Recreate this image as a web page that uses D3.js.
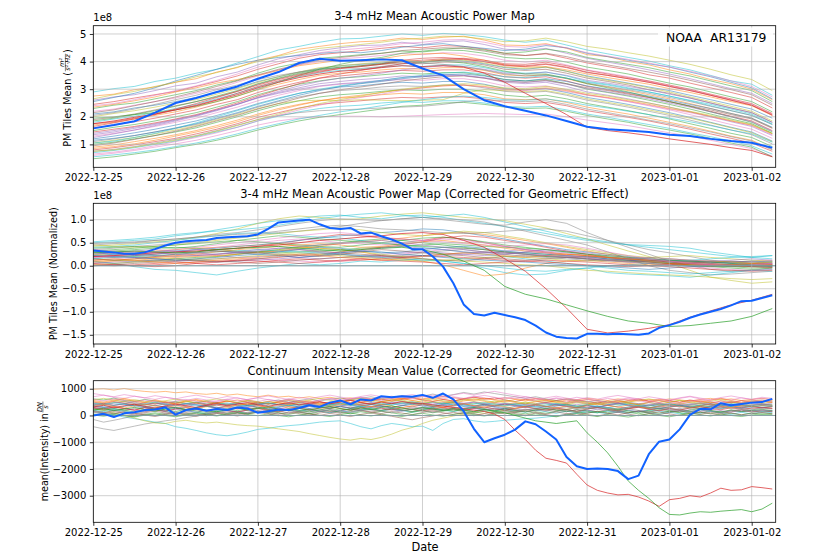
<!DOCTYPE html>
<html><head><meta charset="utf-8">
<script src="https://cdn.jsdelivr.net/npm/d3@7"></script>
<style>body{margin:0;background:#fff}svg{display:block}text{font-family:"DejaVu Sans",sans-serif;fill:#000}</style>
</head><body><svg id="c" width="830" height="554"></svg>
<script>
// ---------- time grids (hours after 2022-12-25 00:00 UTC) ----------
const hours6 = [0,6,12,18,24,30,36,42,48,54,60,66,72,78,84,90,96,102,108,114,120,126,132,138,144,150,156,162,168,174,180,186,192,198];
const hours3 = [0,3,6,9,12,15,18,21,24,27,30,33,36,39,42,45,48,51,54,57,60,63,66,69,72,75,78,81,84,87,90,93,96,99,102,105,108,111,114,117,120,123,126,129,132,135,138,141,144,147,150,153,156,159,162,165,168,171,174,177,180,183,186,189,192,195,198];
const dayLabels = ["2022-12-25","2022-12-26","2022-12-27","2022-12-28","2022-12-29","2022-12-30","2022-12-31","2023-01-01","2023-01-02"];

// ---------- panel 1 : PM tiles mean (1e8) ----------
const p1Thin = [
 [2.90,3.02,3.10,3.28,3.40,3.58,3.72,3.95,4.18,4.42,4.55,4.70,4.82,4.84,4.92,5.00,4.95,5.02,4.98,4.90,4.78,4.70,4.78,4.60,4.42,4.28,4.15,4.02,3.85,3.70,3.50,3.30,3.18,2.78],
 [2.75,2.82,2.98,3.08,3.25,3.38,3.62,3.78,4.05,4.22,4.45,4.55,4.65,4.72,4.75,4.85,4.80,4.88,4.92,4.78,4.60,4.58,4.65,4.48,4.25,4.18,4.00,3.88,3.70,3.55,3.35,3.20,3.00,2.62],
 [2.60,2.72,2.80,2.95,3.12,3.22,3.45,3.62,3.88,4.10,4.25,4.40,4.50,4.58,4.60,4.70,4.62,4.72,4.75,4.62,4.45,4.40,4.48,4.30,4.12,3.98,3.85,3.70,3.55,3.38,3.20,3.02,2.85,2.48],
 [2.45,2.55,2.68,2.80,2.92,3.10,3.28,3.48,3.72,3.92,4.12,4.25,4.32,4.40,4.48,4.55,4.50,4.58,4.55,4.45,4.30,4.22,4.28,4.12,3.95,3.82,3.70,3.52,3.40,3.22,3.05,2.88,2.70,2.32],
 [2.30,2.42,2.50,2.65,2.80,2.95,3.15,3.32,3.58,3.80,3.95,4.12,4.18,4.25,4.30,4.38,4.35,4.42,4.40,4.30,4.15,4.10,4.12,3.98,3.80,3.68,3.55,3.38,3.22,3.08,2.90,2.72,2.55,2.18],
 [2.20,2.28,2.42,2.55,2.68,2.85,3.02,3.25,3.48,3.70,3.88,4.00,4.10,4.15,4.22,4.30,4.25,4.32,4.30,4.20,4.05,3.98,4.05,3.88,3.70,3.58,3.45,3.28,3.12,2.98,2.78,2.62,2.45,2.08],
 [2.10,2.18,2.32,2.42,2.55,2.70,2.88,3.05,3.28,3.45,3.62,3.75,3.85,3.90,3.95,4.02,3.98,4.05,4.02,3.92,3.78,3.72,3.80,3.65,3.48,3.35,3.22,3.08,2.95,2.78,2.62,2.45,2.28,1.95],
 [2.00,2.12,2.22,2.35,2.50,2.62,2.82,3.02,3.25,3.45,3.62,3.78,3.85,3.92,3.98,4.05,4.00,4.08,4.05,3.95,3.80,3.75,3.80,3.65,3.45,3.32,3.20,3.05,2.90,2.72,2.55,2.38,2.20,1.85],
 [1.90,1.98,2.10,2.25,2.40,2.55,2.72,2.92,3.18,3.38,3.55,3.68,3.78,3.82,3.90,3.95,3.92,3.98,3.98,3.88,3.72,3.68,3.72,3.58,3.40,3.28,3.15,2.98,2.85,2.68,2.50,2.32,2.15,1.80],
 [1.80,1.92,2.02,2.15,2.30,2.45,2.65,2.85,3.08,3.28,3.45,3.60,3.68,3.72,3.80,3.85,3.82,3.88,3.88,3.78,3.62,3.58,3.62,3.48,3.28,3.18,3.05,2.90,2.75,2.58,2.40,2.22,2.05,1.72],
 [1.70,1.80,1.92,2.05,2.18,2.35,2.55,2.75,2.98,3.18,3.35,3.50,3.58,3.62,3.70,3.75,3.72,3.78,3.78,3.68,3.52,3.48,3.52,3.38,3.20,3.08,2.95,2.80,2.65,2.48,2.30,2.12,1.95,1.60],
 [1.60,1.70,1.82,1.95,2.10,2.25,2.45,2.62,2.88,3.08,3.25,3.40,3.48,3.55,3.62,3.68,3.65,3.70,3.70,3.60,3.45,3.40,3.45,3.30,3.10,2.98,2.85,2.70,2.55,2.38,2.20,2.02,1.85,1.50],
 [1.50,1.62,1.72,1.85,2.00,2.15,2.35,2.55,2.80,3.00,3.18,3.30,3.40,3.45,3.52,3.58,3.55,3.60,3.60,3.50,3.35,3.30,3.35,3.20,3.00,2.88,2.75,2.60,2.45,2.28,2.10,1.92,1.75,1.40],
 [1.40,1.50,1.62,1.75,1.90,2.05,2.25,2.45,2.70,2.88,3.05,3.20,3.28,3.35,3.40,3.48,3.45,3.50,3.50,3.40,3.25,3.20,3.25,3.10,2.90,2.78,2.65,2.50,2.35,2.18,2.00,1.82,1.65,1.32],
 [1.30,1.40,1.52,1.65,1.80,1.95,2.15,2.35,2.58,2.78,2.95,3.10,3.18,3.22,3.30,3.35,3.32,3.38,3.38,3.28,3.12,3.08,3.12,2.98,2.80,2.68,2.55,2.40,2.25,2.08,1.90,1.72,1.55,1.22],
 [1.20,1.30,1.42,1.55,1.70,1.85,2.05,2.25,2.48,2.68,2.85,2.98,3.08,3.12,3.20,3.25,3.22,3.28,3.28,3.18,3.02,2.98,3.02,2.88,2.70,2.58,2.45,2.30,2.15,1.98,1.80,1.62,1.45,1.12],
 [1.10,1.20,1.32,1.45,1.58,1.72,1.92,2.12,2.35,2.55,2.72,2.85,2.95,3.00,3.08,3.12,3.10,3.15,3.15,3.05,2.92,2.88,2.92,2.78,2.60,2.48,2.35,2.20,2.05,1.88,1.70,1.52,1.35,1.02],
 [1.00,1.08,1.20,1.32,1.45,1.60,1.80,2.00,2.22,2.42,2.58,2.72,2.80,2.85,2.92,2.98,2.95,3.00,3.00,2.92,2.78,2.72,2.78,2.65,2.48,2.35,2.22,2.08,1.92,1.75,1.58,1.40,1.25,0.92],
 [0.90,0.98,1.10,1.22,1.35,1.50,1.68,1.88,2.10,2.30,2.45,2.58,2.68,2.72,2.80,2.85,2.82,2.88,2.88,2.80,2.65,2.62,2.65,2.52,2.35,2.22,2.10,1.95,1.80,1.65,1.48,1.30,1.15,0.82],
 [0.80,0.88,0.98,1.10,1.22,1.38,1.55,1.75,1.98,2.15,2.32,2.45,2.52,2.58,2.65,2.70,2.68,2.72,2.72,2.65,2.52,2.48,2.52,2.40,2.22,2.10,1.98,1.85,1.70,1.55,1.38,1.22,1.05,0.75],
 [0.70,0.78,0.88,1.00,1.12,1.28,1.45,1.62,1.85,2.02,2.18,2.30,2.38,2.42,2.50,2.55,2.52,2.58,2.58,2.50,2.38,2.35,2.38,2.25,2.10,1.98,1.85,1.72,1.58,1.42,1.28,1.12,0.95,0.65],
 [0.60,0.68,0.78,0.90,1.02,1.15,1.32,1.50,1.70,1.85,1.95,2.00,2.02,2.02,2.00,2.02,2.05,2.08,2.10,2.12,2.10,2.08,2.10,2.00,1.88,1.78,1.68,1.55,1.42,1.30,1.15,1.00,0.85,0.58],
 [0.48,0.55,0.65,0.75,0.88,1.00,1.15,1.32,1.52,1.70,1.85,1.98,2.08,2.18,2.28,2.38,2.42,2.50,2.52,2.45,2.35,2.30,2.32,2.20,2.05,1.92,1.80,1.65,1.52,1.38,1.22,1.05,0.90,0.55],
 [1.05,1.15,1.25,1.38,1.52,1.68,1.88,2.08,2.30,2.48,2.58,2.60,2.58,2.62,2.60,2.58,2.60,2.62,2.85,2.98,2.95,2.92,2.95,2.82,2.65,2.52,2.40,2.25,2.10,1.95,1.78,1.60,1.42,1.10],
 [0.75,0.82,0.92,1.05,1.18,1.32,1.50,1.70,1.90,2.05,2.15,2.22,2.25,2.28,2.32,2.35,2.38,2.45,2.55,2.62,2.58,2.55,2.58,2.45,2.28,2.15,2.02,1.88,1.75,1.60,1.45,1.28,1.12,0.80],
 [2.55,2.70,2.85,3.05,3.30,3.50,3.72,3.90,4.05,4.15,4.22,4.30,4.35,4.32,4.40,4.52,4.60,4.65,4.55,4.48,4.40,4.45,4.58,4.50,4.30,4.18,4.05,3.92,3.80,3.62,3.45,3.25,3.05,2.65],
 [1.95,2.00,2.08,2.15,2.25,2.38,2.55,2.75,3.00,3.25,3.50,3.72,3.90,4.05,4.15,4.30,4.38,4.45,4.50,4.42,4.30,4.35,4.45,4.35,4.15,4.02,3.90,3.78,3.62,3.48,3.30,3.12,2.95,2.55],
 [2.35,2.45,2.58,2.72,2.90,3.05,3.22,3.35,3.50,3.68,3.85,3.95,4.05,4.00,4.10,4.22,4.28,4.30,4.20,4.05,3.88,3.80,3.82,3.70,3.55,3.42,3.30,3.18,3.02,2.88,2.72,2.55,2.40,2.05],
 [1.65,1.78,1.92,2.08,2.25,2.42,2.62,2.85,3.10,3.30,3.48,3.62,3.75,3.85,3.92,4.05,4.12,4.15,4.10,4.00,3.85,3.82,3.90,3.78,3.60,3.50,3.38,3.25,3.10,2.95,2.78,2.60,2.42,2.05],
 [1.25,1.38,1.52,1.68,1.85,2.02,2.22,2.45,2.70,2.92,3.12,3.28,3.40,3.48,3.58,3.70,3.78,3.85,3.82,3.72,3.58,3.55,3.62,3.50,3.32,3.22,3.10,2.98,2.82,2.68,2.50,2.32,2.15,1.80],
 [0.95,1.05,1.18,1.32,1.48,1.65,1.85,2.05,2.28,2.48,2.68,2.85,2.98,3.08,3.18,3.30,3.38,3.45,3.48,3.40,3.28,3.25,3.32,3.20,3.05,2.95,2.82,2.70,2.55,2.40,2.25,2.08,1.92,1.58],
 [0.65,0.72,0.82,0.95,1.10,1.25,1.42,1.62,1.85,2.05,2.25,2.42,2.58,2.70,2.82,2.95,3.05,3.12,3.15,3.08,2.98,2.95,3.02,2.92,2.78,2.68,2.55,2.42,2.28,2.15,2.00,1.85,1.68,1.35],
 [0.55,0.62,0.70,0.80,0.92,1.05,1.20,1.38,1.58,1.75,1.92,2.05,2.18,2.28,2.40,2.52,2.62,2.70,2.75,2.70,2.62,2.60,2.65,2.55,2.42,2.32,2.20,2.08,1.95,1.82,1.68,1.52,1.38,1.08],
 [2.65,2.80,2.92,3.10,3.25,3.45,3.60,3.80,4.00,4.20,4.35,4.48,4.55,4.62,4.70,4.80,4.85,4.92,4.90,4.82,4.72,4.75,4.85,4.72,4.55,4.45,4.32,4.20,4.05,3.90,3.72,3.52,3.35,2.95],
 [2.05,2.15,2.28,2.45,2.62,2.78,2.98,3.15,3.35,3.50,3.62,3.72,3.78,3.75,3.82,3.92,3.95,3.90,3.82,3.70,3.55,3.48,3.52,3.40,3.22,3.10,2.98,2.85,2.70,2.55,2.38,2.22,2.05,1.72],
 [1.45,1.55,1.65,1.78,1.92,2.08,2.28,2.50,2.75,2.98,3.20,3.40,3.55,3.68,3.80,3.92,4.00,4.05,4.08,4.00,3.88,3.85,3.92,3.80,3.62,3.50,3.38,3.25,3.10,2.95,2.78,2.60,2.42,2.08],
 [1.15,1.22,1.32,1.45,1.60,1.75,1.95,2.15,2.38,2.58,2.78,2.95,3.10,3.20,3.28,3.38,3.45,3.52,3.55,3.48,3.35,3.30,3.38,3.28,3.12,3.00,2.88,2.75,2.60,2.45,2.30,2.12,1.95,1.62],
 [0.85,0.92,1.02,1.15,1.30,1.45,1.62,1.82,2.05,2.25,2.42,2.58,2.70,2.78,2.88,2.98,3.05,3.12,3.15,3.10,3.00,2.98,3.05,2.95,2.80,2.70,2.58,2.45,2.30,2.18,2.02,1.85,1.70,1.38],
 [1.85,1.95,2.08,2.22,2.38,2.55,2.75,2.95,3.20,3.40,3.58,3.72,3.80,3.85,3.92,4.00,3.98,4.02,3.95,3.82,3.65,3.55,3.55,3.40,3.20,3.05,2.90,2.72,2.55,2.38,2.18,2.00,1.80,1.45],
 [2.40,2.48,2.62,2.78,2.95,3.12,3.32,3.55,3.80,4.00,4.18,4.32,4.42,4.48,4.55,4.65,4.70,4.78,4.80,4.70,4.55,4.52,4.62,4.50,4.32,4.20,4.08,3.95,3.80,3.65,3.48,3.30,3.10,2.72],
 [1.35,1.45,1.58,1.72,1.88,2.05,2.25,2.45,2.68,2.85,3.00,3.12,3.20,3.25,3.32,3.42,3.48,3.52,3.50,3.42,3.30,3.25,3.30,3.18,3.02,2.90,2.78,2.65,2.50,2.35,2.18,2.00,1.82,1.48],
 [1.05,1.12,1.25,1.40,1.58,1.78,2.00,2.22,2.45,2.65,2.85,3.00,3.12,3.22,3.32,3.42,3.50,3.58,3.62,3.55,3.45,3.42,3.50,3.40,3.25,3.15,3.02,2.90,2.75,2.60,2.45,2.28,2.10,1.75],
 [0.75,0.80,0.90,1.02,1.15,1.30,1.48,1.68,1.90,2.10,2.30,2.48,2.62,2.75,2.88,3.00,3.08,3.15,3.20,3.15,3.05,3.02,3.10,3.00,2.85,2.75,2.62,2.50,2.35,2.20,2.05,1.88,1.72,1.40],
 [1.75,1.82,1.95,2.10,2.28,2.48,2.70,2.92,3.15,3.35,3.52,3.65,3.75,3.82,3.90,4.00,4.05,4.10,4.12,4.05,3.92,3.90,3.98,3.85,3.68,3.55,3.42,3.30,3.15,3.00,2.82,2.65,2.48,2.12],
 [2.15,2.25,2.40,2.55,2.72,2.90,3.10,3.30,3.52,3.72,3.90,4.05,4.15,4.22,4.30,4.40,4.45,4.50,4.48,4.38,4.25,4.22,4.30,4.18,4.00,3.88,3.75,3.62,3.48,3.32,3.15,2.98,2.80,2.42]
];
const p1ThinColors = ["#17becf","#ff7f0e","#9467bd","#d62728","#2ca02c","#e377c2","#1f77b4","#bcbd22","#8c564b","#17becf","#ff7f0e","#d62728","#2ca02c","#9467bd","#e377c2","#1f77b4","#7f7f7f","#2ca02c","#ff7f0e","#d62728","#17becf","#e377c2","#2ca02c","#bcbd22","#7f7f7f","#1f77b4","#2ca02c","#ff7f0e","#d62728","#9467bd","#8c564b","#e377c2","#17becf","#bcbd22","#7f7f7f","#d62728","#1f77b4","#ff7f0e","#2ca02c","#e377c2","#9467bd","#17becf","#bcbd22","#d62728","#8c564b"];
const p1Red  = [1.75,1.85,1.98,2.10,2.25,2.40,2.60,2.80,3.05,3.25,3.42,3.55,3.65,3.70,3.78,3.85,3.82,3.85,3.80,3.58,3.25,2.85,2.48,2.08,1.62,1.50,1.42,1.32,1.20,1.10,1.00,0.88,0.78,0.55];
const p1Blue = [1.58,1.70,1.84,2.15,2.50,2.68,2.90,3.10,3.38,3.62,3.95,4.10,4.03,4.05,4.08,4.05,3.75,3.50,3.00,2.60,2.38,2.22,2.05,1.85,1.64,1.55,1.50,1.45,1.35,1.30,1.20,1.12,1.06,0.88];

// ---------- panel 2 : corrected, normalized (1e8) ----------
const p2Thin = [
 [0.50,0.52,0.55,0.58,0.65,0.70,0.78,0.85,0.92,0.98,1.02,1.08,1.10,1.05,1.02,1.08,1.10,1.05,0.98,0.92,0.85,0.78,0.70,0.62,0.55,0.50,0.46,0.44,0.42,0.38,0.30,0.24,0.18,0.15],
 [0.42,0.45,0.48,0.52,0.55,0.62,0.70,0.80,0.92,1.02,1.08,1.05,1.00,1.02,1.08,1.12,1.15,1.10,1.05,1.02,0.98,0.90,0.82,0.70,0.58,0.45,0.32,0.20,0.05,-0.10,-0.25,-0.32,-0.38,-0.35],
 [0.45,0.48,0.50,0.55,0.58,0.62,0.68,0.72,0.78,0.85,0.92,0.98,1.02,1.00,0.98,1.02,1.05,1.00,0.95,0.90,0.88,0.95,1.00,0.92,0.72,0.55,0.40,0.25,0.10,0.00,-0.08,-0.12,-0.10,-0.05],
 [0.35,0.38,0.42,0.45,0.48,0.52,0.58,0.62,0.68,0.72,0.75,0.80,0.85,0.92,0.98,1.02,1.05,1.02,1.00,0.95,0.85,0.75,0.65,0.55,0.45,0.30,0.15,0.00,-0.10,-0.15,-0.20,-0.18,-0.15,-0.12],
 [0.10,0.05,-0.02,-0.08,-0.10,-0.15,-0.20,-0.12,-0.05,0.00,0.05,0.02,0.05,0.10,0.08,0.12,0.15,0.10,0.05,-0.05,-0.15,-0.20,-0.18,-0.10,-0.05,-0.15,-0.18,-0.20,-0.22,-0.25,-0.20,-0.15,-0.10,-0.12],
 [0.25,0.28,0.30,0.32,0.35,0.38,0.40,0.42,0.45,0.48,0.42,0.38,0.35,0.30,0.22,0.15,0.10,0.02,-0.10,-0.22,-0.18,-0.05,0.05,0.10,0.12,0.08,0.05,0.02,0.05,0.08,0.05,0.02,0.00,0.02],
 [0.20,0.18,0.22,0.25,0.28,0.30,0.35,0.38,0.42,0.48,0.55,0.62,0.68,0.65,0.60,0.58,0.55,0.62,0.58,0.50,0.42,0.35,0.30,0.25,0.22,0.18,0.15,0.12,0.10,0.08,0.10,0.08,0.05,0.06],
 [0.15,0.12,0.10,0.12,0.15,0.18,0.20,0.25,0.30,0.35,0.40,0.45,0.50,0.55,0.58,0.55,0.50,0.45,0.40,0.35,0.30,0.28,0.25,0.22,0.18,0.15,0.12,0.08,0.05,0.02,0.00,-0.02,-0.05,-0.03],
 [0.05,0.08,0.10,0.12,0.10,0.12,0.15,0.18,0.20,0.22,0.18,0.15,0.18,0.20,0.25,0.28,0.30,0.28,0.25,0.22,0.25,0.30,0.28,0.22,0.18,0.15,0.12,0.10,0.08,0.10,0.08,0.06,0.05,0.04],
 [0.30,0.28,0.25,0.22,0.20,0.22,0.25,0.28,0.30,0.32,0.35,0.32,0.28,0.25,0.22,0.20,0.22,0.25,0.28,0.30,0.28,0.25,0.22,0.20,0.15,0.12,0.10,0.08,0.05,0.04,0.02,0.00,-0.02,0.00],
 [0.12,0.15,0.18,0.20,0.22,0.25,0.22,0.18,0.15,0.12,0.10,0.08,0.10,0.15,0.20,0.25,0.30,0.35,0.38,0.35,0.30,0.25,0.22,0.18,0.15,0.12,0.10,0.12,0.15,0.12,0.10,0.08,0.10,0.12],
 [0.02,0.05,0.08,0.10,0.12,0.15,0.20,0.25,0.30,0.35,0.40,0.38,0.35,0.30,0.25,0.20,0.15,0.12,0.10,0.08,0.05,0.02,0.00,-0.05,-0.10,-0.12,-0.15,-0.18,-0.20,-0.22,-0.25,-0.28,-0.30,-0.28],
 [0.40,0.42,0.45,0.50,0.55,0.60,0.65,0.70,0.72,0.70,0.65,0.62,0.60,0.55,0.50,0.45,0.40,0.35,0.30,0.25,0.20,0.15,0.10,0.05,0.00,-0.05,-0.10,-0.12,-0.15,-0.18,-0.15,-0.12,-0.10,-0.08],
 [0.22,0.25,0.28,0.30,0.32,0.35,0.38,0.42,0.45,0.50,0.55,0.60,0.65,0.68,0.72,0.75,0.80,0.78,0.72,0.65,0.58,0.50,0.42,0.35,0.30,0.25,0.20,0.15,0.12,0.10,0.08,0.05,0.02,0.00],
 [0.08,0.10,0.12,0.15,0.18,0.20,0.22,0.25,0.28,0.32,0.38,0.42,0.48,0.52,0.55,0.60,0.65,0.70,0.72,0.68,0.62,0.55,0.48,0.40,0.32,0.25,0.18,0.12,0.08,0.05,0.03,0.00,-0.02,0.00],
 [0.30,0.32,0.35,0.38,0.40,0.38,0.35,0.32,0.30,0.28,0.30,0.32,0.35,0.38,0.40,0.42,0.45,0.48,0.45,0.42,0.40,0.38,0.35,0.30,0.25,0.20,0.15,0.10,0.05,0.02,0.00,-0.02,0.00,0.02],
 [0.05,0.02,0.00,0.02,0.05,0.08,0.10,0.12,0.15,0.18,0.22,0.25,0.30,0.35,0.40,0.45,0.52,0.60,0.65,0.62,0.55,0.48,0.40,0.32,0.25,0.18,0.12,0.08,0.05,0.02,0.00,0.02,0.05,0.03],
 [0.18,0.20,0.18,0.15,0.12,0.10,0.08,0.10,0.12,0.15,0.18,0.22,0.25,0.22,0.20,0.18,0.20,0.22,0.25,0.28,0.32,0.35,0.32,0.28,0.22,0.18,0.15,0.12,0.08,0.05,0.02,0.00,0.02,0.04],
 [0.00,0.02,0.05,0.08,0.10,0.12,0.10,0.08,0.05,0.08,0.12,0.15,0.18,0.20,0.22,0.18,0.15,0.12,0.10,0.15,0.20,0.22,0.20,0.18,0.15,0.12,0.08,0.05,0.02,0.00,-0.02,0.00,0.02,0.00],
 [0.48,0.50,0.52,0.55,0.58,0.62,0.65,0.68,0.70,0.75,0.80,0.85,0.88,0.85,0.80,0.78,0.75,0.72,0.70,0.72,0.75,0.78,0.80,0.75,0.65,0.55,0.45,0.35,0.28,0.20,0.12,0.08,0.05,0.08],
 [0.25,0.22,0.20,0.18,0.15,0.12,0.15,0.18,0.22,0.25,0.28,0.25,0.22,0.18,0.15,0.12,0.10,0.12,0.15,0.18,0.20,0.18,0.15,0.12,0.10,0.12,0.15,0.18,0.20,0.22,0.18,0.15,0.12,0.10],
 [0.15,0.18,0.20,0.22,0.25,0.28,0.30,0.32,0.35,0.32,0.30,0.28,0.25,0.22,0.18,0.15,0.12,0.10,0.05,0.00,-0.05,-0.10,-0.12,-0.08,-0.05,0.00,0.02,0.05,0.08,0.12,0.15,0.18,0.20,0.22],
 [0.28,0.25,0.22,0.25,0.30,0.35,0.32,0.28,0.25,0.30,0.35,0.40,0.38,0.32,0.28,0.30,0.35,0.40,0.42,0.38,0.32,0.28,0.25,0.22,0.20,0.15,0.12,0.10,0.12,0.08,0.05,0.08,0.10,0.08],
 [0.10,0.12,0.15,0.18,0.22,0.25,0.30,0.35,0.38,0.42,0.45,0.48,0.45,0.40,0.42,0.48,0.52,0.55,0.50,0.45,0.38,0.32,0.28,0.25,0.22,0.18,0.15,0.12,0.10,0.08,0.05,0.02,0.00,-0.02],
 [0.38,0.40,0.42,0.40,0.38,0.42,0.48,0.55,0.60,0.65,0.62,0.58,0.55,0.52,0.48,0.45,0.42,0.40,0.38,0.35,0.30,0.25,0.20,0.18,0.15,0.12,0.10,0.05,0.02,0.00,-0.02,-0.05,-0.08,-0.05],
 [0.02,0.00,0.02,0.05,0.08,0.05,0.02,0.05,0.08,0.12,0.15,0.12,0.10,0.12,0.15,0.18,0.22,0.20,0.18,0.15,0.12,0.10,0.08,0.05,0.02,0.00,-0.02,0.00,0.02,0.05,0.02,0.00,-0.02,-0.04],
 [0.52,0.55,0.58,0.62,0.68,0.72,0.75,0.78,0.82,0.88,0.95,1.02,1.08,1.12,1.15,1.10,1.05,1.08,1.12,1.05,0.95,0.85,0.75,0.65,0.58,0.52,0.45,0.40,0.35,0.30,0.25,0.20,0.18,0.22],
 [0.20,0.22,0.25,0.28,0.25,0.22,0.25,0.30,0.35,0.38,0.35,0.30,0.28,0.32,0.38,0.42,0.38,0.35,0.30,0.28,0.25,0.30,0.35,0.32,0.28,0.22,0.18,0.15,0.10,0.08,0.05,0.02,0.00,0.02],
 [0.15,0.12,0.15,0.20,0.25,0.28,0.32,0.30,0.28,0.25,0.22,0.20,0.25,0.30,0.35,0.32,0.28,0.25,0.22,0.18,0.15,0.12,0.15,0.18,0.20,0.18,0.15,0.12,0.08,0.05,0.08,0.10,0.08,0.05],
 [0.35,0.32,0.30,0.28,0.30,0.35,0.40,0.45,0.50,0.55,0.58,0.55,0.50,0.48,0.45,0.50,0.55,0.58,0.55,0.50,0.42,0.35,0.28,0.22,0.18,0.12,0.08,0.05,0.02,-0.02,-0.05,-0.08,-0.10,-0.08],
 [0.08,0.05,0.08,0.10,0.15,0.12,0.08,0.10,0.15,0.20,0.25,0.28,0.25,0.20,0.18,0.22,0.28,0.32,0.35,0.30,0.25,0.20,0.18,0.15,0.12,0.10,0.08,0.10,0.12,0.10,0.08,0.05,0.08,0.10],
 [0.45,0.42,0.40,0.42,0.45,0.50,0.55,0.60,0.65,0.70,0.75,0.78,0.82,0.78,0.72,0.68,0.65,0.70,0.75,0.72,0.65,0.58,0.50,0.42,0.35,0.28,0.22,0.18,0.15,0.12,0.10,0.08,0.05,0.08],
 [0.22,0.20,0.18,0.15,0.12,0.15,0.18,0.22,0.25,0.22,0.18,0.22,0.28,0.32,0.30,0.25,0.22,0.18,0.15,0.12,0.10,0.08,0.05,0.02,0.00,-0.02,-0.05,-0.08,-0.05,-0.02,0.00,0.02,0.00,-0.02],
 [0.12,0.15,0.12,0.08,0.05,0.08,0.12,0.15,0.18,0.22,0.25,0.22,0.18,0.15,0.12,0.15,0.20,0.25,0.28,0.25,0.22,0.18,0.22,0.25,0.22,0.18,0.15,0.10,0.05,0.02,0.00,0.02,0.05,0.02],
 [0.32,0.35,0.38,0.42,0.45,0.48,0.52,0.55,0.52,0.48,0.45,0.42,0.40,0.45,0.50,0.55,0.60,0.62,0.58,0.52,0.45,0.40,0.35,0.30,0.25,0.22,0.18,0.15,0.12,0.10,0.08,0.05,0.02,0.00],
 [0.00,0.02,0.00,-0.02,0.00,0.05,0.08,0.12,0.10,0.08,0.05,0.08,0.12,0.15,0.12,0.10,0.08,0.05,0.02,0.05,0.08,0.10,0.12,0.10,0.08,0.05,0.02,0.00,-0.02,-0.05,-0.08,-0.10,-0.12,-0.10],
 [0.18,0.22,0.25,0.30,0.35,0.40,0.45,0.50,0.55,0.60,0.65,0.70,0.72,0.68,0.62,0.58,0.55,0.52,0.48,0.45,0.42,0.45,0.48,0.45,0.38,0.30,0.22,0.15,0.10,0.05,0.02,0.00,0.02,0.05],
 [0.25,0.28,0.32,0.35,0.32,0.28,0.25,0.28,0.32,0.38,0.42,0.45,0.48,0.52,0.55,0.50,0.45,0.40,0.35,0.30,0.28,0.25,0.22,0.18,0.15,0.12,0.15,0.18,0.15,0.12,0.10,0.12,0.15,0.12]
];
const p2ThinColors = ["#17becf","#bcbd22","#7f7f7f","#7f7f7f","#17becf","#ff7f0e","#d62728","#2ca02c","#9467bd","#8c564b","#e377c2","#bcbd22","#17becf","#1f77b4","#ff7f0e","#2ca02c","#d62728","#9467bd","#8c564b","#7f7f7f","#bcbd22","#17becf","#1f77b4","#ff7f0e","#2ca02c","#d62728","#17becf","#9467bd","#8c564b","#e377c2","#7f7f7f","#bcbd22","#1f77b4","#ff7f0e","#2ca02c","#d62728","#e377c2","#9467bd"];
const p2Red   = [0.20,0.22,0.25,0.28,0.30,0.32,0.35,0.38,0.42,0.45,0.50,0.55,0.58,0.62,0.65,0.70,0.72,0.68,0.55,0.40,0.15,-0.12,-0.50,-0.92,-1.38,-1.46,-1.42,-1.36,-1.28,-1.12,-0.98,-0.85,-0.75,-0.62];
const p2Green = [0.28,0.30,0.32,0.30,0.28,0.30,0.35,0.38,0.40,0.42,0.38,0.35,0.32,0.35,0.38,0.40,0.35,0.25,0.10,-0.10,-0.45,-0.62,-0.72,-0.85,-0.98,-1.10,-1.20,-1.25,-1.32,-1.30,-1.25,-1.20,-1.10,-0.93];
const p2Blue  = [0.33,0.31,0.29,0.26,0.26,0.29,0.36,0.44,0.50,0.53,0.55,0.56,0.60,0.62,0.63,0.64,0.68,0.80,0.94,0.96,0.98,1.00,0.90,0.82,0.80,0.82,0.70,0.72,0.64,0.57,0.48,0.36,0.36,0.20,-0.02,-0.38,-0.84,-1.05,-1.08,-1.02,-1.07,-1.12,-1.18,-1.30,-1.45,-1.54,-1.57,-1.58,-1.48,-1.48,-1.49,-1.48,-1.49,-1.50,-1.47,-1.35,-1.29,-1.22,-1.13,-1.06,-1.00,-0.94,-0.86,-0.77,-0.76,-0.70,-0.64];

// ---------- panel 3 : continuum intensity (DN/s) ----------
const p3Thin = [
 [980,1000,950,1010,940,900,870,900,850,880,820,790,830,760,800,740,700,760,690,720,650,700,640,680,620,660,600,640,590,650,620,680,600,640,700,660,620,680,640,600,660,620,580,640,600,560,620,580,640,600,560,620,580,540,600,560,620,580,540,600,640,580,620,560,600,640,600],
 [620,580,650,560,520,600,540,480,520,450,500,430,470,400,450,380,420,460,400,440,380,420,360,400,440,380,420,460,400,440,480,420,460,500,440,480,420,460,400,440,380,420,460,400,440,380,420,360,400,440,380,420,460,400,360,420,380,440,400,360,420,380,440,400,360,420,400],
 [-420,-500,-560,-480,-400,-320,-260,-200,-150,-80,-20,40,80,20,100,60,140,100,60,120,180,140,200,160,120,180,240,200,160,220,180,240,280,220,260,200,240,300,260,220,280,240,200,260,220,280,320,260,300,240,280,220,260,300,240,280,220,260,300,340,280,320,260,300,240,280,260],
 [150,80,20,-60,-120,-180,-250,-300,-420,-480,-560,-650,-720,-760,-700,-620,-520,-480,-420,-380,-350,-300,-250,-220,-200,-300,-420,-500,-380,-300,-350,-420,-400,-560,-300,-150,-120,-200,-250,-220,-180,-150,-120,-100,-60,-20,40,80,120,100,160,120,180,140,200,160,120,180,140,200,160,120,180,140,200,160,180],
 [250,200,100,0,-100,-200,-280,-300,-220,-180,-240,-280,-250,-300,-350,-380,-400,-450,-500,-550,-600,-680,-750,-820,-880,-920,-860,-900,-820,-700,-550,-450,-300,-180,-100,-20,60,120,80,160,200,140,220,180,260,200,240,300,260,320,280,240,300,360,300,260,320,380,340,300,360,420,380,340,400,440,380],
 [400,440,380,420,360,400,460,420,380,440,400,360,420,380,440,480,420,460,400,440,380,420,460,500,440,480,420,460,520,480,440,500,460,420,480,520,460,500,440,480,420,460,400,440,480,420,460,500,440,480,420,460,400,440,480,420,460,400,440,480,420,460,500,440,480,420,460],
 [280,220,320,260,200,300,240,340,280,220,300,360,280,320,240,300,360,300,240,320,280,360,300,260,340,280,360,420,340,300,380,320,400,340,300,380,440,360,400,340,420,360,300,380,320,400,340,280,360,300,380,320,260,340,280,360,300,380,320,260,340,280,360,300,340,280,320],
 [150,100,180,120,60,140,200,140,80,160,220,160,100,180,120,200,260,180,120,200,140,220,160,100,180,240,180,120,200,260,200,140,220,160,240,300,220,160,240,180,260,200,140,220,160,240,180,120,200,140,220,160,100,180,120,200,140,220,160,100,180,120,200,140,180,120,160],
 [700,760,680,640,720,660,600,680,620,560,640,580,520,600,660,580,520,600,540,620,560,500,580,640,560,620,680,600,660,720,640,700,760,680,620,700,640,720,660,600,680,620,700,640,580,660,600,680,620,560,640,580,660,600,540,620,560,640,700,620,560,640,580,660,600,640,580],
 [250,300,220,180,260,320,240,180,260,200,280,340,260,200,280,220,300,240,180,260,320,260,200,280,340,280,220,300,360,300,240,320,260,340,400,320,260,340,280,360,300,240,320,260,340,280,220,300,240,320,260,200,280,340,260,320,260,200,280,220,300,240,320,260,200,280,240],
 [450,400,480,520,440,380,460,400,480,540,460,400,480,420,360,440,500,420,480,400,460,520,440,380,460,400,480,540,460,520,580,500,440,520,460,540,600,520,460,540,480,420,500,440,520,460,400,480,420,500,440,520,460,400,480,420,500,560,480,420,500,440,520,460,520,460,500],
 [200,140,220,160,100,180,240,160,100,180,120,60,140,200,140,80,160,100,180,240,160,220,160,100,180,120,200,260,180,240,180,120,200,260,200,140,220,280,220,160,240,180,120,200,140,80,160,100,180,120,60,140,80,160,100,40,120,60,140,80,160,100,40,120,60,140,100],
 [350,300,380,440,360,300,380,320,260,340,400,340,280,360,300,380,440,360,300,380,320,400,340,280,360,420,360,300,380,440,380,460,400,340,420,480,400,340,420,360,440,380,320,400,340,420,360,300,380,320,400,460,380,320,400,340,420,360,300,380,440,360,420,360,300,380,340],
 [560,500,580,640,560,500,580,520,460,540,600,520,460,540,480,560,500,440,520,460,540,480,420,500,560,480,540,600,520,580,640,560,620,680,600,540,620,560,640,580,520,600,540,620,560,500,580,520,600,540,480,560,500,580,520,600,540,480,560,500,580,640,560,500,580,520,560],
 [60,0,80,20,-40,40,100,40,-20,60,120,60,0,80,140,60,120,180,100,40,120,60,140,200,120,60,140,80,160,100,40,120,180,100,160,220,140,80,160,100,180,120,60,140,80,160,220,140,80,160,100,180,120,60,140,80,160,100,40,120,60,140,80,20,100,40,80],
 [500,440,520,460,400,480,420,500,440,380,460,400,480,540,460,400,480,420,500,560,480,420,500,440,520,580,500,560,620,540,600,660,580,520,600,540,620,680,600,660,580,520,600,540,480,560,500,580,520,460,540,480,560,620,540,480,560,500,580,520,460,540,480,560,500,540,500],
 [300,240,180,260,200,140,220,160,240,180,120,200,260,180,120,200,140,220,280,200,260,200,140,220,160,240,300,220,280,220,160,240,300,240,180,260,320,260,200,280,220,160,240,180,260,200,140,220,160,240,180,120,200,140,220,280,200,140,220,160,240,180,120,200,140,200,160],
 [400,460,380,440,500,420,360,440,500,420,480,540,460,400,480,540,460,520,580,500,560,620,540,600,660,580,640,700,620,680,740,660,720,800,720,780,860,800,880,820,760,700,640,700,620,560,620,560,500,560,500,440,500,440,380,440,380,320,380,440,380,320,380,440,380,420,380],
 [380,320,260,340,400,330,270,350,290,230,310,370,300,240,320,380,310,250,330,390,320,260,340,400,330,270,350,410,340,280,360,420,350,290,370,430,360,300,380,320,260,340,400,330,270,350,410,340,280,360,300,240,320,380,310,250,330,390,320,260,340,400,330,270,350,300,340],
 [520,470,540,600,530,470,550,490,430,510,570,500,440,520,580,510,450,530,470,410,490,550,480,420,500,560,490,430,510,570,630,560,500,580,520,460,540,600,530,470,550,490,430,510,570,500,440,520,460,400,480,540,470,410,490,550,480,420,500,560,490,430,510,450,490,530,480],
 [240,190,260,200,140,220,280,210,150,230,170,110,190,250,180,240,300,230,170,250,190,130,210,270,200,260,320,250,190,270,210,150,230,290,220,160,240,300,230,170,250,190,130,210,270,200,140,220,160,100,180,240,170,110,190,250,180,120,200,260,190,130,210,150,190,230,180],
 [820,760,700,780,720,660,740,680,620,700,760,690,630,710,650,590,670,730,660,600,680,620,700,760,690,630,710,770,700,640,720,780,710,650,730,670,610,690,750,680,620,700,640,580,660,720,650,590,670,610,690,750,680,620,700,640,580,660,720,650,590,670,730,660,600,680,640],
 [120,60,140,80,20,100,160,90,30,110,50,-10,70,130,60,120,180,110,50,130,70,10,90,150,80,140,200,130,70,150,90,30,110,170,100,40,120,60,0,80,140,70,10,90,30,-30,50,110,40,-20,60,120,50,-10,70,130,60,0,80,140,70,10,90,30,70,110,60],
 [440,390,460,520,450,390,470,410,350,430,490,420,360,440,380,320,400,460,390,450,510,440,380,460,400,340,420,480,410,470,530,460,400,480,420,360,440,500,430,370,450,390,330,410,470,400,340,420,360,300,380,440,370,310,390,450,380,320,400,460,390,330,410,350,390,430,380],
 [300,250,320,260,200,280,220,160,240,300,230,170,250,190,130,210,270,200,140,220,280,210,270,330,260,200,280,340,270,210,290,230,170,250,310,240,180,260,320,250,190,270,330,260,200,280,220,160,240,300,230,170,250,310,240,180,260,200,280,340,270,210,290,230,270,310,260],
 [580,640,570,510,590,530,470,550,610,540,480,560,620,550,490,570,510,450,530,590,520,580,640,570,510,590,650,580,520,600,540,480,560,620,550,490,570,630,560,500,580,520,460,540,600,530,470,550,490,430,510,570,500,560,620,550,490,570,510,450,530,590,520,460,540,580,530],
 [-150,-250,-180,-100,-20,60,0,80,140,70,10,90,150,80,20,100,160,90,150,210,140,80,160,220,150,90,170,230,160,100,180,240,170,110,190,250,180,120,200,260,190,130,210,270,200,140,220,160,240,300,230,170,250,190,130,210,270,200,140,220,160,100,180,240,170,210,180],
 [460,410,480,420,360,440,500,430,370,450,390,330,410,470,400,340,420,480,410,350,430,370,310,390,450,380,320,400,460,390,450,510,440,380,460,400,340,420,480,410,350,430,370,310,390,450,380,320,400,340,280,360,420,350,290,370,430,360,300,380,320,260,340,400,330,370,340],
 [20,-30,40,-10,-60,10,60,0,-50,20,80,30,-20,50,100,40,-10,60,0,-50,20,70,10,-40,30,90,30,-20,50,0,-40,30,80,20,-30,40,90,30,-20,50,100,40,-10,60,0,-50,20,70,10,-40,30,-10,-60,10,60,0,-50,20,80,30,-20,50,0,-40,20,60,30],
 [350,410,340,280,360,420,350,290,370,310,250,330,390,320,380,440,370,310,390,330,270,350,410,340,400,460,390,330,410,350,290,370,430,360,300,380,440,370,310,390,330,270,350,410,340,280,360,300,380,440,370,310,390,330,270,350,410,340,280,360,420,350,290,370,330,370,340],
 [600,540,620,560,500,580,520,460,540,600,530,470,550,610,540,600,660,590,530,610,550,490,570,630,560,620,680,610,550,630,690,620,700,760,690,770,830,760,840,900,830,760,700,640,580,640,580,520,600,540,480,560,620,550,490,570,510,450,530,590,520,460,540,480,540,580,520],
 [180,120,60,140,80,20,-40,40,100,30,-30,50,110,40,-20,60,120,50,-10,70,130,60,0,80,20,-40,40,100,30,-30,-100,-160,-80,-20,60,120,50,-10,70,130,60,120,180,110,50,130,70,10,90,150,80,20,100,160,90,30,110,170,100,40,120,60,140,200,130,170,140]
];
const p3ThinColors = ["#ff7f0e","#2ca02c","#7f7f7f","#17becf","#bcbd22","#9467bd","#d62728","#8c564b","#e377c2","#7f7f7f","#bcbd22","#17becf","#1f77b4","#ff7f0e","#2ca02c","#d62728","#9467bd","#7f7f7f","#1f77b4","#ff7f0e","#2ca02c","#e377c2","#8c564b","#9467bd","#d62728","#bcbd22","#7f7f7f","#17becf","#2ca02c","#ff7f0e","#e377c2","#8c564b"];
const p3Red   = [320,380,300,360,420,340,280,360,420,360,300,380,440,360,420,480,400,340,420,480,400,460,520,440,500,560,480,420,500,440,520,460,450,400,350,300,250,200,150,50,-150,-550,-900,-1300,-1600,-1680,-1780,-2200,-2600,-2800,-2900,-2970,-2950,-3050,-3200,-3400,-3150,-3100,-3000,-3050,-2900,-2720,-2800,-2780,-2660,-2700,-2750];
const p3Green = [200,260,180,240,300,220,160,240,300,220,280,200,140,220,280,200,260,320,240,180,260,200,280,340,260,200,280,220,300,360,280,220,300,240,180,260,200,140,220,160,100,0,-100,-200,-250,-300,-250,-200,-650,-1000,-1400,-1900,-2450,-2800,-3100,-3450,-3700,-3720,-3650,-3600,-3620,-3580,-3550,-3520,-3600,-3500,-3280];
const p3Blue  = [0,60,-60,80,120,200,220,300,30,200,260,180,240,200,300,260,100,160,220,200,280,380,320,480,560,420,600,560,720,680,720,700,770,660,820,600,160,-500,-1000,-850,-720,-530,-220,-330,-600,-900,-1550,-1900,-2000,-1980,-2000,-2080,-2380,-2250,-1450,-980,-900,-520,20,250,230,460,380,430,480,500,620];

// ---------- axis ticks ----------
const p1Ticks = [1,2,3,4,5],            p1TickLabels = ["1","2","3","4","5"];
const p2Ticks = [-1.5,-1,-0.5,0,0.5,1], p2TickLabels = ["\u22121.5","\u22121.0","\u22120.5","0.0","0.5","1.0"];
const p3Ticks = [-3000,-2000,-1000,0,1000], p3TickLabels = ["\u22123000","\u22122000","\u22121000","0","1000"];

// ---------- drawing ----------
const svg = d3.select('#c');
const T0 = Date.UTC(2022, 11, 25);
const toDate = h => new Date(T0 + h * 3600e3);
const X0 = 93.3, X1 = 775.7;
const x = d3.scaleUtc().domain([toDate(0), toDate(199)]).range([X0, X1]);
const dayTicks = dayLabels.map(s => new Date(s + "T00:00:00Z"));
const FONT = '"DejaVu Sans", sans-serif';

function panel(cfg) {
  const y = d3.scaleLinear().domain(cfg.domain).range([cfg.bottom, cfg.top]);
  const clipId = 'clip' + cfg.id;
  svg.append('clipPath').attr('id', clipId).append('rect')
     .attr('x', X0).attr('y', cfg.top).attr('width', X1 - X0).attr('height', cfg.bottom - cfg.top);
  const plot = svg.append('g').attr('clip-path', `url(#${clipId})`);
  const mk = hrs => d3.line().defined((d, i) => i < hrs.length).x((d, i) => x(toDate(hrs[i]))).y(d => y(d));

  cfg.thin.forEach((vals, i) => {
    plot.append('path').attr('d', mk(cfg.thinHours)(vals)).attr('fill', 'none')
      .attr('stroke', cfg.colors[i % cfg.colors.length]).attr('stroke-width', 0.85).attr('stroke-opacity', 0.6);
  });
  if (cfg.zero) {
    plot.append('line').attr('x1', X0).attr('x2', X1).attr('y1', y(0)).attr('y2', y(0))
      .attr('stroke', '#3f7f8c').attr('stroke-width', 1.1).attr('stroke-opacity', 0.85);
  }
  const grid = plot.append('g').attr('stroke', '#b0b0b0').attr('stroke-width', 0.8).attr('stroke-opacity', 0.75);
  dayTicks.forEach(d => grid.append('line').attr('x1', x(d)).attr('x2', x(d)).attr('y1', cfg.top).attr('y2', cfg.bottom));
  cfg.yticks.forEach(v => grid.append('line').attr('x1', X0).attr('x2', X1).attr('y1', y(v)).attr('y2', y(v)));

  (cfg.specials || []).forEach(s => {
    plot.append('path').attr('d', mk(s.hours)(s.vals)).attr('fill', 'none')
      .attr('stroke', s.color).attr('stroke-width', 0.9).attr('stroke-opacity', 0.8);
  });
  plot.append('path').attr('d', mk(cfg.blueHours)(cfg.blue)).attr('fill', 'none')
    .attr('stroke', '#1162ff').attr('stroke-width', 2).attr('stroke-linejoin', 'round');

  const xa = svg.append('g').attr('transform', `translate(0,${cfg.bottom})`)
    .call(d3.axisBottom(x).tickValues(dayTicks).tickFormat((d, i) => dayLabels[i]).tickSize(3.5).tickPadding(3.5).tickSizeOuter(0));
  const ya = svg.append('g').attr('transform', `translate(${X0},0)`)
    .call(d3.axisLeft(y).tickValues(cfg.yticks).tickFormat((d, i) => cfg.ylabels[i]).tickSize(3.5).tickPadding(3.5).tickSizeOuter(0));
  [xa, ya].forEach(a => {
    a.select('.domain').remove();
    a.attr('font-family', FONT).attr('font-size', 10);
    a.selectAll('line').attr('stroke', '#000').attr('stroke-width', 0.8);
    a.selectAll('text').attr('fill', '#000');
  });
  svg.append('rect').attr('x', X0).attr('y', cfg.top).attr('width', X1 - X0).attr('height', cfg.bottom - cfg.top)
    .attr('fill', 'none').attr('stroke', '#000').attr('stroke-width', 0.8);

  svg.append('text').attr('x', 434.5).attr('y', cfg.titleY).attr('text-anchor', 'middle')
    .attr('font-size', 11.45).text(cfg.title);
  if (cfg.offset) svg.append('text').attr('x', X0).attr('y', cfg.top - 4.5).attr('font-size', 10).text(cfg.offset);
  return y;
}

function rotLabel(cx, cy, pre, num, den, post, fs) {
  const g = svg.append('g').attr('transform', `translate(${cx},${cy}) rotate(-90)`);
  const inner = g.append('g');
  const t1 = inner.append('text').attr('font-size', fs).text(pre);
  let w = t1.node().getComputedTextLength();
  if (num) {
    const fsm = 6.6;
    const n = inner.append('text').attr('font-size', fsm).attr('font-style', 'italic').attr('y', -6.2).text(num);
    const d = inner.append('text').attr('font-size', fsm).attr('font-style', 'italic').attr('y', -0.4).text(den);
    const wn = n.node().getComputedTextLength(), wd = d.node().getComputedTextLength();
    const fw = Math.max(wn, wd) + 1;
    n.attr('x', w + 0.6 + (fw - wn) / 2);
    d.attr('x', w + 0.6 + (fw - wd) / 2);
    inner.append('line').attr('x1', w + 0.6).attr('x2', w + 0.6 + fw).attr('y1', -5.1).attr('y2', -5.1)
      .attr('stroke', '#000').attr('stroke-width', 0.5);
    w += fw + 1.4;
  }
  let wp = 0;
  if (post) {
    const t2 = inner.append('text').attr('font-size', fs).attr('x', w).text(post);
    wp = t2.node().getComputedTextLength();
  }
  inner.attr('transform', `translate(${-(w + wp) / 2},0)`);
}

panel({id: 1, top: 25.7, bottom: 167.3, domain: [0.17, 5.3], yticks: p1Ticks, ylabels: p1TickLabels,
  thin: p1Thin, thinHours: hours6, colors: p1ThinColors,
  specials: [{vals: p1Red, hours: hours6, color: '#d62728'}],
  blue: p1Blue, blueHours: hours6, title: '3-4 mHz Mean Acoustic Power Map', titleY: 20, offset: '1e8'});

panel({id: 2, top: 203.3, bottom: 344, domain: [-1.70, 1.356], yticks: p2Ticks, ylabels: p2TickLabels,
  thin: p2Thin, thinHours: hours6, colors: p2ThinColors, zero: true,
  specials: [{vals: p2Red, hours: hours6, color: '#d62728'}, {vals: p2Green, hours: hours6, color: '#2ca02c'}],
  blue: p2Blue, blueHours: hours3, title: '3-4 mHz Mean Acoustic Power Map (Corrected for Geometric Effect)', titleY: 197.5, offset: '1e8'});

panel({id: 3, top: 380.7, bottom: 522.3, domain: [-3995, 1300], yticks: p3Ticks, ylabels: p3TickLabels,
  thin: p3Thin, thinHours: hours3, colors: p3ThinColors, zero: true,
  specials: [{vals: p3Red, hours: hours3, color: '#d62728'}, {vals: p3Green, hours: hours3, color: '#2ca02c'}],
  blue: p3Blue, blueHours: hours3, title: 'Continuum Intensity Mean Value (Corrected for Geometric Effect)', titleY: 375});

rotLabel(70.5, 98, 'PM Tiles Mean (', 'm\u00b2', 's\u00b2\u00b7Hz', ')', 9.6);
rotLabel(57, 273.7, 'PM Tiles Mean (Normalized)', null, null, null, 9.6);
rotLabel(48, 451, 'mean(Intensity) in ', 'DN', 's', null, 9.6);

svg.append('text').attr('x', 425).attr('y', 551).attr('text-anchor', 'middle').attr('font-size', 11.4).text('Date');

svg.append('rect').attr('x', 658).attr('y', 27.5).attr('width', 115).attr('height', 19).attr('fill', '#fff').attr('fill-opacity', 0.85);
svg.append('text').attr('x', 666).attr('y', 42).attr('font-size', 12.4).attr('xml:space', 'preserve')
  .style('white-space', 'pre').text('NOAA  AR13179');
</script></body></html>
